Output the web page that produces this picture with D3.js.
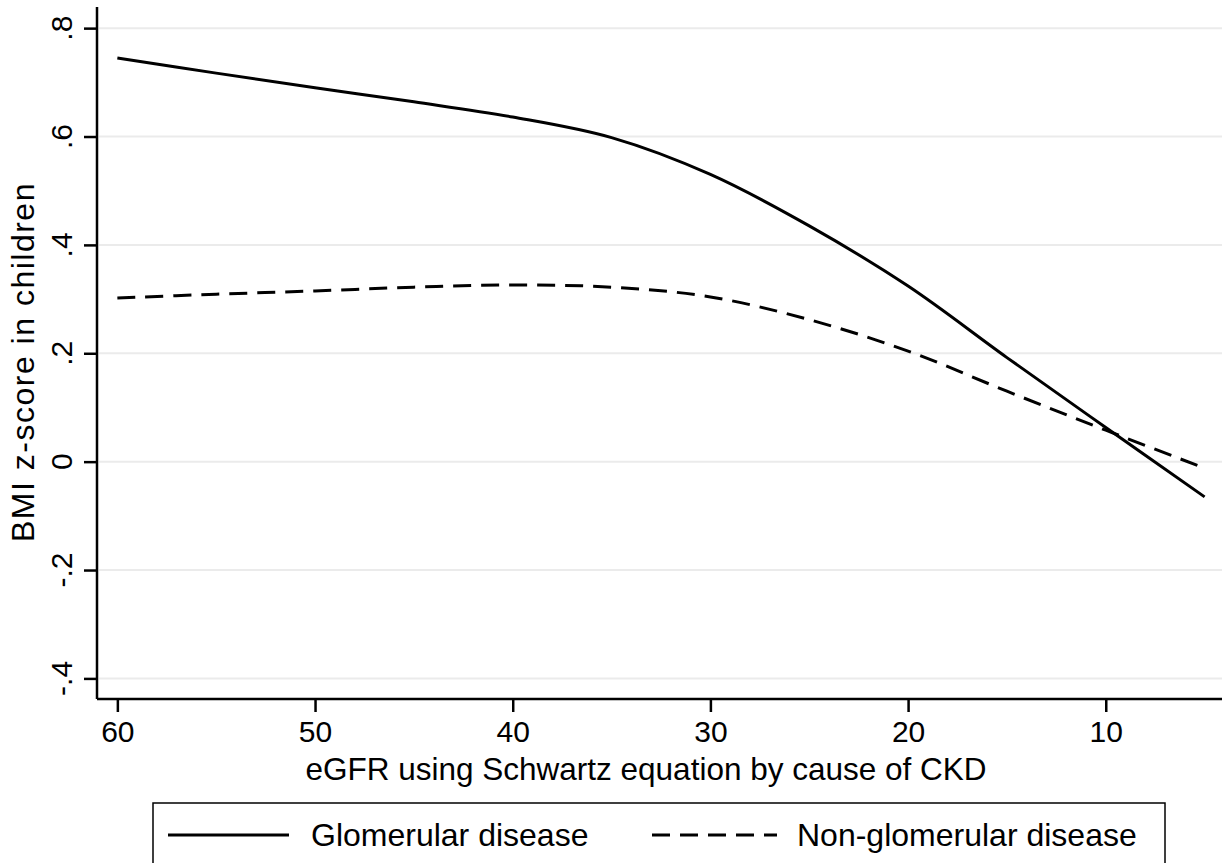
<!DOCTYPE html>
<meta charset="utf-8">
<style>
body { margin: 0; background: #fff; }
svg { display: block; background: #fff; }
text { font-family: "Liberation Sans", Arial, sans-serif; fill: #000; }
.grid line { stroke: #ebebeb; stroke-width: 2px; }
.axis path, .axis line { stroke: #000; stroke-width: 2.5px; }
.curve { fill: none; stroke: #000; stroke-width: 3px; }
</style>
<body>
<script src="https://cdnjs.cloudflare.com/ajax/libs/d3/7.8.5/d3.min.js"></script>
<script>
// eGFR (x) and BMI z-score (y)
var egfr = [60, 55, 50, 45, 40, 35, 30, 25, 20, 15, 10, 5];
var glomerular    = [0.745, 0.717, 0.690, 0.664, 0.636, 0.598, 0.530, 0.435, 0.324, 0.192, 0.063, -0.065];
var nonGlomerular = [0.302, 0.309, 0.315, 0.322, 0.326, 0.322, 0.304, 0.262, 0.204, 0.130, 0.058, -0.012];
var xTicks = [60, 50, 40, 30, 20, 10];
var yTicks = [0.8, 0.6, 0.4, 0.2, 0, -0.2, -0.4];
var yTickLabels = [".8", ".6", ".4", ".2", "0", "-.2", "-.4"];
var seriesNames = ["Glomerular disease", "Non-glomerular disease"];

var W = 1230, H = 863;
var plot = {left: 97, right: 1222, top: 7, bottom: 699};

var svg = d3.select("body").append("svg")
    .attr("width", W)
    .attr("height", H);

var x = d3.scaleLinear().domain([61.03, 4.12]).range([plot.left, plot.right]);
var y = d3.scaleLinear().domain([-0.438, 0.839]).range([plot.bottom, plot.top]);

// gridlines
svg.append("g").attr("class", "grid")
  .selectAll("line").data(yTicks).enter().append("line")
    .attr("x1", plot.left + 2).attr("x2", plot.right)
    .attr("y1", d => y(d)).attr("y2", d => y(d));

// y axis
var yAxis = svg.append("g").attr("class", "axis")
    .attr("transform", "translate(" + plot.left + ",0)")
    .call(d3.axisLeft(y).tickValues(yTicks).tickSize(13).tickSizeOuter(0)
            .tickFormat((d, i) => yTickLabels[i]));
yAxis.selectAll("text").remove();
yAxis.select(".domain").attr("d", "M0," + plot.top + "V" + plot.bottom);

svg.append("g").selectAll("text").data(yTicks).enter().append("text")
    .attr("transform", d => "translate(72," + y(d) + ") rotate(-90)")
    .attr("text-anchor", "middle")
    .style("font-size", "30px")
    .text((d, i) => yTickLabels[i]);

// x axis
var xAxis = svg.append("g").attr("class", "axis")
    .attr("transform", "translate(0," + plot.bottom + ")")
    .call(d3.axisBottom(x).tickValues(xTicks).tickSize(13).tickSizeOuter(0).tickPadding(9));
xAxis.select(".domain").attr("d", "M" + plot.left + ",0H" + plot.right);
xAxis.selectAll("text").style("font-size", "30px").attr("fill", "#000");

// axis titles
svg.append("text")
    .attr("x", 646).attr("y", 780)
    .attr("text-anchor", "middle")
    .style("font-size", "31.5px")
    .text("eGFR using Schwartz equation by cause of CKD");

svg.append("text")
    .attr("transform", "translate(34,362) rotate(-90)")
    .attr("text-anchor", "middle")
    .style("font-size", "32px")
    .style("letter-spacing", "1.5px")
    .text("BMI z-score in children");

// curves
var line = d3.line().curve(d3.curveCatmullRom.alpha(0.5));

svg.append("path").attr("class", "curve")
    .attr("d", line(egfr.map((e, i) => [x(e), y(glomerular[i])])));

svg.append("path").attr("class", "curve")
    .attr("stroke-dasharray", "18,10")
    .attr("d", line(egfr.map((e, i) => [x(e), y(nonGlomerular[i])])));

// legend
var legend = svg.append("g");
legend.append("rect")
    .attr("x", 153).attr("y", 803)
    .attr("width", 1012).attr("height", 80)
    .attr("fill", "#fff").attr("stroke", "#000").attr("stroke-width", 1.5);

var legendItems = [
  {name: seriesNames[0], x1: 168, x2: 289, tx: 311, dash: null},
  {name: seriesNames[1], x1: 652, x2: 777, tx: 797, dash: "18,10"}
];
legendItems.forEach(function(d) {
  legend.append("line")
    .attr("x1", d.x1).attr("x2", d.x2).attr("y1", 835).attr("y2", 835)
    .attr("stroke", "#000").attr("stroke-width", 3)
    .attr("stroke-dasharray", d.dash);
  legend.append("text")
    .attr("x", d.tx).attr("y", 846)
    .style("font-size", "32px")
    .text(d.name);
});
</script>
</body>
